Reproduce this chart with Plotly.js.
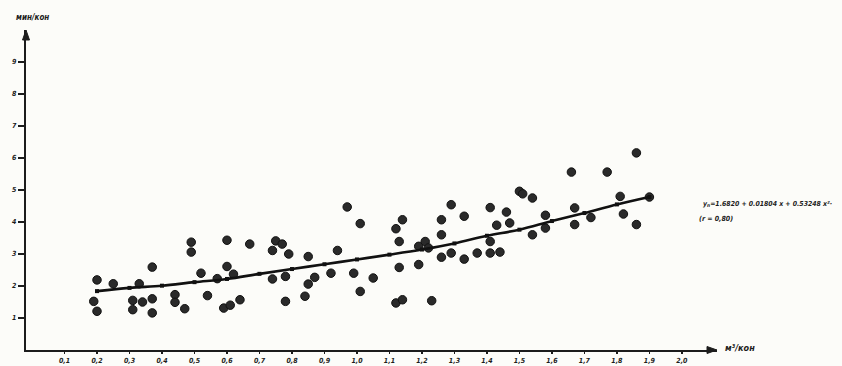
<!DOCTYPE html>
<html>
<head>
<meta charset="utf-8">
<script src="https://cdn.plot.ly/plotly-3.0.1.min.js"></script>
<style>
  html, body { margin: 0; padding: 0; background: #fcfcf9; }
  #chart { width: 842px; height: 366px; }
</style>
</head>
<body>
<div id="chart"></div>
<script>
// Observed points (x: м³/кон, y: мин/кон)
const obsX = [0.20,0.19,0.20,0.25,0.31,0.31,0.34,0.33,0.37,0.37,0.37,0.44,0.44,0.47,0.49,0.49,0.52,0.54,0.57,0.60,
              0.60,0.59,0.61,0.62,0.64,0.67,0.75,0.77,0.74,0.79,0.74,0.78,0.78,0.85,0.85,0.84,0.87,0.92,0.94,0.97,
              1.01,0.99,1.01,1.05,1.12,1.14,1.13,1.13,1.12,1.14,1.19,1.19,1.21,1.22,1.23,1.26,1.26,1.26,1.29,1.29,
              1.33,1.33,1.37,1.41,1.41,1.41,1.44,1.43,1.46,1.47,1.50,1.51,1.54,1.54,1.58,1.58,1.66,1.67,1.67,1.72,
              1.77,1.81,1.82,1.86,1.86,1.90];
const obsY = [2.19,1.52,1.21,2.07,1.55,1.26,1.50,2.07,1.60,1.16,2.59,1.73,1.49,1.29,3.37,3.06,2.40,1.70,2.23,3.43,
              2.61,1.31,1.40,2.37,1.57,3.31,3.41,3.31,3.11,3.00,2.22,2.30,1.52,2.92,2.06,1.68,2.27,2.40,3.11,4.47,
              3.95,2.40,1.83,2.25,3.79,4.07,3.39,2.58,1.47,1.57,2.67,3.24,3.39,3.19,1.54,4.07,3.60,2.90,4.54,3.03,
              4.18,2.84,3.03,4.45,3.39,3.03,3.06,3.90,4.31,3.97,4.96,4.88,4.75,3.60,4.21,3.81,5.56,4.44,3.92,4.14,
              5.56,4.80,4.25,6.16,3.92,4.78];

// Regression curve
const fitX = [0.2,0.3,0.4,0.5,0.6,0.7,0.8,0.9,1.0,1.1,1.2,1.3,1.4,1.5,1.6,1.7,1.8,1.9];
const fitY = [1.84,1.94,2.01,2.12,2.22,2.38,2.53,2.68,2.83,2.98,3.14,3.33,3.57,3.76,4.03,4.28,4.55,4.78];

// Tick labels
const xTickVals = [0.1,0.2,0.3,0.4,0.5,0.6,0.7,0.8,0.9,1.0,1.1,1.2,1.3,1.4,1.5,1.6,1.7,1.8,1.9,2.0];
const xTickText = ["0,1","0,2","0,3","0,4","0,5","0,6","0,7","0,8","0,9","1,0","1,1","1,2","1,3","1,4","1,5","1,6","1,7","1,8","1,9","2,0"];
const yTickVals = [1,2,3,4,5,6,7,8,9];
const yTickText = ["1","2","3","4","5","6","7","8","9"];

const xLabel = "м³/кон";
const yLabel = "мин/кон";
const eqLine1 = "y<sub>n</sub>=1.6820 + 0.01804 x + 0.53248 x²·";
const eqLine2 = "(r = 0,80)";

const ink = "#1c1c1c";
const fontFam = "DejaVu Sans Condensed, DejaVu Sans, sans-serif";
const XR = [-0.0185, 2.108];
const YR = [0, 10.0];

const W = 842, H = 366;
const M = { l: 26, r: 125, t: 30, b: 16, pad: 0 };
const pw = W - M.l - M.r, ph = H - M.t - M.b;
const aLen = 10, aHalf = 3.5;

const traces = [
  {
    x: obsX, y: obsY, type: "scatter", mode: "markers",
    marker: { size: 8.5, color: "#2a2a2a", line: { color: "#111", width: 1 } },
    hoverinfo: "skip", showlegend: false
  },
  {
    x: fitX, y: fitY, type: "scatter", mode: "lines+markers",
    line: { color: "#111", width: 2.6, shape: "spline" },
    marker: { symbol: "square", size: 4, color: "#111" },
    hoverinfo: "skip", showlegend: false
  }
];

const tickFont = { family: fontFam, size: 7, color: ink, weight: "bold", style: "italic" };

// arrowheads at the axis ends (paper coordinates)
const xArrow = `M 1 0 L ${1 - aLen / pw} ${aHalf / ph} L ${1 - aLen / pw} ${-aHalf / ph} Z`;
const yArrow = `M 0 1 L ${aHalf / pw} ${1 - aLen / ph} L ${-aHalf / pw} ${1 - aLen / ph} Z`;

const layout = {
  width: W, height: H,
  margin: M,
  paper_bgcolor: "#fcfcf9",
  plot_bgcolor: "#fcfcf9",
  showlegend: false,
  xaxis: {
    range: XR, showgrid: false, zeroline: false,
    showline: true, linecolor: ink, linewidth: 2.2,
    tickmode: "array", tickvals: xTickVals, ticktext: xTickText,
    ticks: "outside", ticklen: 2, tickwidth: 1.3, tickcolor: ink,
    tickfont: tickFont, automargin: false, fixedrange: true
  },
  yaxis: {
    range: YR, showgrid: false, zeroline: false,
    showline: true, linecolor: ink, linewidth: 2.2,
    tickmode: "array", tickvals: yTickVals, ticktext: yTickText,
    ticks: "outside", ticklen: 6, tickwidth: 1.3, tickcolor: ink,
    tickfont: tickFont, automargin: false, fixedrange: true
  },
  shapes: [
    { type: "path", xref: "paper", yref: "paper", path: xArrow, fillcolor: ink, line: { color: ink, width: 1 }, layer: "above" },
    { type: "path", xref: "paper", yref: "paper", path: yArrow, fillcolor: ink, line: { color: ink, width: 1 }, layer: "above" }
  ],
  annotations: [
    { x: 1, y: 0, xref: "paper", yref: "paper", xanchor: "left", yanchor: "middle",
      xshift: 6, yshift: 2, text: xLabel, showarrow: false,
      font: { family: fontFam, size: 9, color: ink, weight: "bold", style: "italic" } },
    { x: 0, y: 1, xref: "paper", yref: "paper", xanchor: "center", yanchor: "bottom",
      xshift: 6, yshift: 6, text: yLabel, showarrow: false,
      font: { family: fontFam, size: 8, color: ink, weight: "bold", style: "italic" } },
    { x: 1, y: 4.55, xref: "paper", yref: "y", xanchor: "left", yanchor: "middle",
      xshift: -16, text: eqLine1, showarrow: false,
      font: { family: fontFam, size: 6.9, color: ink, weight: "bold", style: "italic" } },
    { x: 1, y: 4.1, xref: "paper", yref: "y", xanchor: "left", yanchor: "middle",
      xshift: -20, text: eqLine2, showarrow: false,
      font: { family: fontFam, size: 7, color: ink, weight: "bold", style: "italic" } }
  ]
};

Plotly.newPlot("chart", traces, layout, { displayModeBar: false, staticPlot: true });
</script>
</body>
</html>
